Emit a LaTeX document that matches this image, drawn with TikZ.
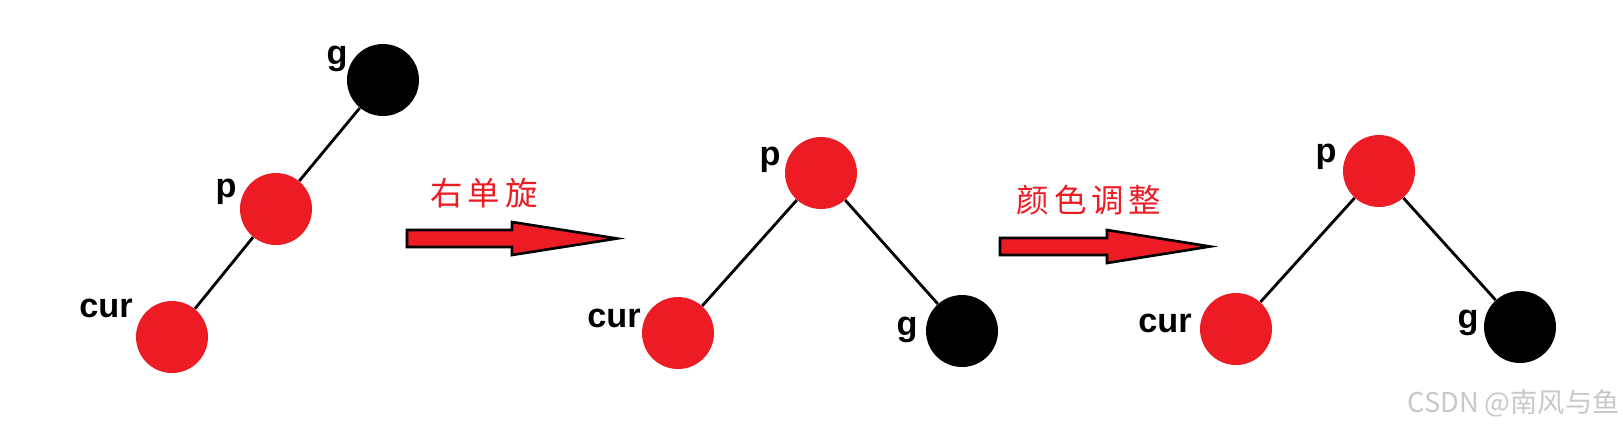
\documentclass[tikz,border=0pt]{standalone}
\usepackage{fontspec}
\setmainfont{Liberation Sans}
\newfontfamily\cjkfont{Noto Sans CJK SC}
\newfontfamily\cjkspaced{Noto Sans CJK SC}[LetterSpace=15]
\usepackage{tikz}
\usetikzlibrary{positioning}
\definecolor{rbred}{HTML}{ED1C24}
\definecolor{markgray}{HTML}{C8C8C8}

\begin{document}
\begin{tikzpicture}[
  x=0.02cm, y=-0.02cm,
  rednode/.style={circle, fill=rbred, minimum size=1.44cm, inner sep=0pt},
  blknode/.style={circle, fill=black, minimum size=1.44cm, inner sep=0pt},
  lbl/.style={font=\fontsize{19.5}{20}\selectfont\bfseries, inner sep=0pt},
  oplbl/.style={font=\cjkspaced\fontsize{18.5}{20}\selectfont, text=rbred, inner sep=0pt},
  edge/.style={line width=1.6pt, black},
  bigarr/.style={fill=rbred, draw=black, line width=1.5pt, line join=miter},
]
  \useasboundingbox (0,0) rectangle (1623,434);
  % before rotation
  \node[blknode] (g1) at (383,80)  {};
  \node[rednode] (p1) at (276,209) {};
  \node[rednode] (c1) at (172,337) {};
  \node[lbl] (g1l) at (337,59)  {g};
  \node[lbl] (p1l) at (226,192) {p};
  \node[lbl] (c1l) at (106,308) {cur};
  \draw[edge] (g1) -- (p1); \draw[edge] (p1) -- (c1);
  % after right rotation
  \node[rednode] (p2) at (821,173) {};
  \node[rednode] (c2) at (678,333) {};
  \node[blknode] (g2) at (962,331) {};
  \node[lbl] (p2l) at (770,160) {p};
  \node[lbl] (c2l) at (614,318) {cur};
  \node[lbl] (g2l) at (907,330) {g};
  \draw[edge] (p2) -- (c2); \draw[edge] (p2) -- (g2);
  % after recolouring
  \node[rednode] (p3) at (1379,171) {};
  \node[rednode] (c3) at (1236,329) {};
  \node[blknode] (g3) at (1520,327) {};
  \node[lbl] (p3l) at (1326,157) {p};
  \node[lbl] (c3l) at (1165,323) {cur};
  \node[lbl] (g3l) at (1468,323) {g};
  \draw[edge] (p3) -- (c3); \draw[edge] (p3) -- (g3);
  % step arrows
  \foreach \ax/\ay/\sl/\hl in {407/238.5/105/105, 1000/246.5/107/103}
    \draw[bigarr] (\ax,\ay-8.5) -- ++(\sl,0) -- ++(0,-8) -- ++(\hl,16.5)
      -- ++(-\hl,16.5) -- ++(0,-8) -- ++(-\sl,0) -- cycle;
  \node[oplbl] (rot) at (484,193)  {右单旋};
  \node[oplbl] (col) at (1089,200) {颜色调整};
  \node[anchor=east, text=markgray, font=\cjkfont\fontsize{15.5}{16}\selectfont, inner sep=0pt] (mark) at (1620,403) {CSDN @南风与鱼};
\end{tikzpicture}
\end{document}
